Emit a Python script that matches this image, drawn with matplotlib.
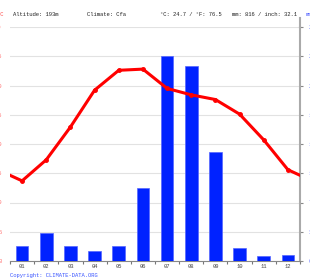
import matplotlib
matplotlib.use("Agg")
import matplotlib.pyplot as plt
from matplotlib.lines import Line2D

months = ["01", "02", "03", "04", "05", "06", "07", "08", "09", "10", "11", "12"]
temp_c = [13.7, 17.3, 22.9, 29.2, 32.6, 32.8, 29.5, 28.4, 27.6, 25.1, 20.7, 15.6]
precip_mm = [18, 33, 18, 12, 18, 87, 245, 233, 130, 16, 6, 7]
temp_ticks = [0, 5, 10, 15, 20, 25, 30, 35, 40]
precip_ticks = [0, 35, 70, 105, 140, 175, 210, 245, 280]
header = ["Altitude: 193m", "Climate: Cfa", "°C: 24.7 / °F: 76.5", "mm: 816 / inch: 32.1"]
copyright_text = "Copyright: CLIMATE-DATA.ORG"

W, H = 310, 280
fig = plt.figure(figsize=(W / 100, H / 100), dpi=100)
font = "Liberation Mono"
fs = 4.0

left, right, bottom, top = 10, 300, 261, 27
axp = fig.add_axes([left / W, 1 - bottom / H, (right - left) / W, (bottom - top) / H])
axt = axp.twinx()

x = list(range(1, 13))
axp.bar(x, precip_mm, width=0.52, color="#0022ff", edgecolor="#5566ff", linewidth=0.5, zorder=3)
axp.set_xlim(0.5, 12.5)
axp.set_ylim(precip_ticks[0], precip_ticks[-1])
axp.set_yticks(precip_ticks)
axp.set_yticklabels([str(v) for v in precip_ticks])
axp.yaxis.tick_right()
axp.grid(axis="y", color="#e2e2e2", linewidth=0.8, zorder=0)
axp.set_axisbelow(True)
axp.tick_params(axis="y", which="major", direction="out", length=2, width=0.8,
                color="#888888", pad=4, labelsize=fs, labelcolor="#5b6cff",
                right=True, left=False, labelright=True, labelleft=False)
for lab in axp.get_yticklabels():
    lab.set_fontfamily(font)

axp.set_xticks(x)
axp.set_xticklabels(months)
axp.set_xticks([i + 0.5 for i in range(0, 13)], minor=True)
axp.tick_params(axis="x", which="major", length=0, pad=2, labelsize=fs, labelcolor="#444444")
axp.tick_params(axis="x", which="minor", direction="out", length=2, width=0.8, color="#777777")
for lab in axp.get_xticklabels():
    lab.set_fontfamily(font)

for s in ["left", "top"]:
    axp.spines[s].set_visible(False)
axp.spines["right"].set_color("#aaaaaa")
axp.spines["right"].set_linewidth(1.5)
axp.spines["bottom"].set_color("#888888")
axp.spines["bottom"].set_linewidth(0.8)

# temperature line, wrapped around the year and clipped at the axes edges
tx = [0] + x + [13]
ty = [temp_c[-1]] + temp_c + [temp_c[0]]
axt.plot(tx, ty, color="#ff0000", linewidth=2.2, marker="o", markersize=2.5,
         solid_joinstyle="round", zorder=5)
axt.set_xlim(0.5, 12.5)
axt.set_ylim(temp_ticks[0], temp_ticks[-1])
axt.set_yticks(temp_ticks)
axt.set_yticklabels([str(v) for v in temp_ticks])
axt.yaxis.tick_left()
axt.tick_params(axis="y", length=0, pad=6, labelsize=fs, labelcolor="#ff7070",
                left=True, right=False, labelleft=True, labelright=False)
for lab in axt.get_yticklabels():
    lab.set_fontfamily(font)
for s in axt.spines.values():
    s.set_visible(False)
axp.set_zorder(1)
axt.set_zorder(2)
axt.patch.set_visible(False)

# extension of right axis line above the plot
fig.add_artist(Line2D([right / W, right / W], [1 - top / H, 1 - 18 / H],
                      color="#aaaaaa", linewidth=1.5, transform=fig.transFigure))

hy = 1 - 15 / H
xs = [13, 87, 160, 232]
for xp, t in zip(xs, header):
    fig.text(xp / W, hy, t, fontsize=fs, fontfamily=font, color="#222222",
             ha="left", va="center")
fig.text(4 / W, hy, "°C", fontsize=fs, fontfamily=font, color="#ff5050", ha="right", va="center")
fig.text(306 / W, hy, "mm", fontsize=fs, fontfamily=font, color="#5060ff", ha="left", va="center")
fig.text(10 / W, 1 - 275 / H, copyright_text, fontsize=fs, fontfamily=font,
         color="#3a55ff", ha="left", va="center")

fig.savefig("out.png", dpi=100)
